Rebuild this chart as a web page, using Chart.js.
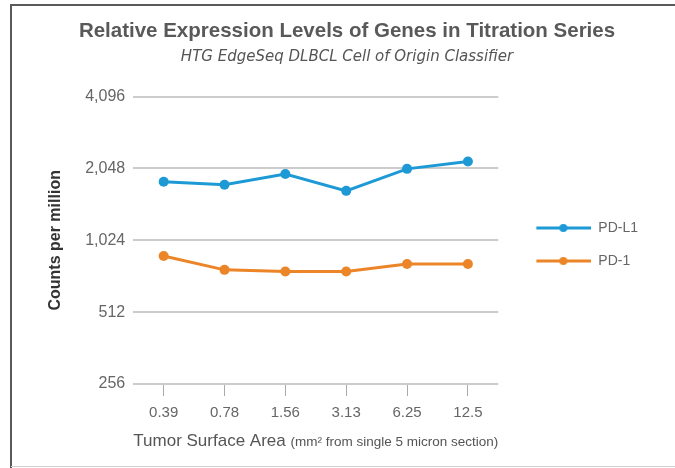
<!DOCTYPE html>
<html>
<head>
<meta charset="utf-8">
<title>Relative Expression Levels</title>
<script src="https://cdn.jsdelivr.net/npm/chart.js@4.4.1/dist/chart.umd.min.js"></script>
<style>
html, body { margin: 0; padding: 0; background: #fff; }
#contenedor { width: 675px; height: 468px; position: relative; }
</style>
</head>
<body>
<div id="contenedor"><canvas id="myChart"></canvas></div>
<script>
// tumor surface area (mm2) per titration step
var categorias = ['0.39', '0.78', '1.56', '3.13', '6.25', '12.5'];
// counts per million
var pdl1 = [1800, 1750, 1940, 1650, 2040, 2190];
var pd1 = [880, 770, 758, 758, 815, 815];
var marcasY = [256, 512, 1024, 2048, 4096];

var azul = '#1d9ad6';
var naranja = '#ec8527';
var fuente = "'Liberation Sans', Arial, sans-serif";

// legend icon: short line with a dot in the middle
function iconoLeyenda(color) {
	var c = document.createElement('canvas');
	c.width = 74;
	c.height = 10;
	var g = c.getContext('2d');
	g.strokeStyle = color;
	g.lineWidth = 3;
	g.beginPath();
	g.moveTo(19, 5);
	g.lineTo(74, 5);
	g.stroke();
	g.fillStyle = color;
	g.beginPath();
	g.arc(46, 5, 4, 0, Math.PI * 2);
	g.fill();
	return c;
}

// white background and the frame around the chart
var marco = {
	id : 'marco',
	beforeDraw : function(chart) {
		var ctx = chart.ctx;
		ctx.save();
		ctx.fillStyle = '#fff';
		ctx.fillRect(0, 0, chart.width, chart.height);
		ctx.strokeStyle = '#5a5a5a';
		ctx.lineWidth = 2;
		ctx.beginPath();
		ctx.moveTo(11, chart.height);
		ctx.lineTo(11, 5);
		ctx.lineTo(chart.width, 5);
		ctx.stroke();
		ctx.strokeStyle = '#d0d0d0';
		ctx.lineWidth = 1;
		ctx.beginPath();
		ctx.moveTo(11, chart.height - 1.5);
		ctx.lineTo(chart.width, chart.height - 1.5);
		ctx.stroke();
		ctx.restore();
	}
};

// x axis title, with the unit note in a smaller font
var tituloX = {
	id : 'tituloX',
	afterDraw : function(chart) {
		var ctx = chart.ctx;
		var area = chart.chartArea;
		var t1 = 'Tumor Surface Area ';
		var t2 = '(mm\u00B2 from single 5 micron section)';
		ctx.save();
		ctx.fillStyle = '#555';
		ctx.textBaseline = 'alphabetic';
		ctx.font = '17px ' + fuente;
		var w1 = ctx.measureText(t1).width;
		ctx.font = '13.5px ' + fuente;
		var w2 = ctx.measureText(t2).width;
		var x = (area.left + area.right) / 2 - (w1 + w2) / 2;
		var y = 446;
		ctx.font = '17px ' + fuente;
		ctx.fillText(t1, x, y);
		ctx.font = '13.5px ' + fuente;
		ctx.fillText(t2, x + w1, y);
		ctx.restore();
	}
};

var ctx = document.getElementById('myChart').getContext('2d');
var chart = new Chart(ctx, {
	type : 'line',
	data : {
		labels : categorias,
		datasets : [ {
			label : 'PD-L1',
			data : pdl1,
			borderColor : azul,
			backgroundColor : azul,
			borderWidth : 3,
			pointRadius : 5,
			pointBorderWidth : 0,
			pointStyle : 'circle',
			fill : false,
			tension : 0
		}, {
			label : 'PD-1',
			data : pd1,
			borderColor : naranja,
			backgroundColor : naranja,
			borderWidth : 3,
			pointRadius : 5,
			pointBorderWidth : 0,
			pointStyle : 'circle',
			fill : false,
			tension : 0
		} ]
	},
	options : {
		responsive : true,
		maintainAspectRatio : false,
		animation : false,
		layout : {
			padding : { left : 46, right : 27, top : 0, bottom : 38 }
		},
		plugins : {
			title : {
				display : true,
				text : 'Relative Expression Levels of Genes in Titration Series',
				color : '#595959',
				font : { family : fuente, size : 20.5, weight : 'bold' },
				padding : { top : 19, bottom : 5 }
			},
			subtitle : {
				display : true,
				text : 'HTG EdgeSeq DLBCL Cell of Origin Classifier',
				color : '#555',
				font : { family : "'DejaVu Sans', sans-serif", size : 15, style : 'italic' },
				padding : { top : 0, bottom : 30 }
			},
			legend : {
				position : 'right',
				align : 'center',
				fullSize : false,
				// empty title only pushes the items a little lower
				title : {
					display : true,
					text : '',
					font : { size : 7 },
					padding : 0
				},
				labels : {
					usePointStyle : true,
					pointStyleWidth : 74,
					padding : 19,
					color : '#666',
					font : { family : fuente, size : 14 },
					generateLabels : function(chart) {
						return chart.data.datasets.map(function(ds, i) {
							return {
								text : ds.label,
								pointStyle : iconoLeyenda(ds.borderColor),
								fillStyle : ds.borderColor,
								strokeStyle : ds.borderColor,
								lineWidth : 0,
								fontColor : '#666',
								hidden : false,
								datasetIndex : i
							};
						});
					}
				}
			},
			tooltip : { enabled : false }
		},
		scales : {
			x : {
				type : 'category',
				offset : true,
				grid : {
					drawOnChartArea : false,
					drawTicks : true,
					tickLength : 12,
					color : '#aaa',
					lineWidth : 1
				},
				border : { display : false },
				ticks : {
					color : '#666',
					padding : 8,
					font : { family : fuente, size : 15 }
				}
			},
			y : {
				type : 'logarithmic',
				min : 256,
				max : 4096,
				afterBuildTicks : function(axis) {
					axis.ticks = marcasY.map(function(v) {
						return { value : v };
					});
				},
				grid : {
					color : '#cccccc',
					lineWidth : 2,
					drawTicks : false
				},
				border : { display : false },
				ticks : {
					color : '#666',
					padding : 8,
					font : { family : fuente, size : 16 },
					callback : function(v) {
						return Number(v).toLocaleString('en-US');
					}
				},
				title : {
					display : true,
					text : 'Counts per million',
					color : '#333',
					font : { family : fuente, size : 16, weight : 'bold' },
					padding : { top : 0, bottom : 12 }
				}
			}
		}
	},
	plugins : [ marco, tituloX ]
});
</script>
</body>
</html>
